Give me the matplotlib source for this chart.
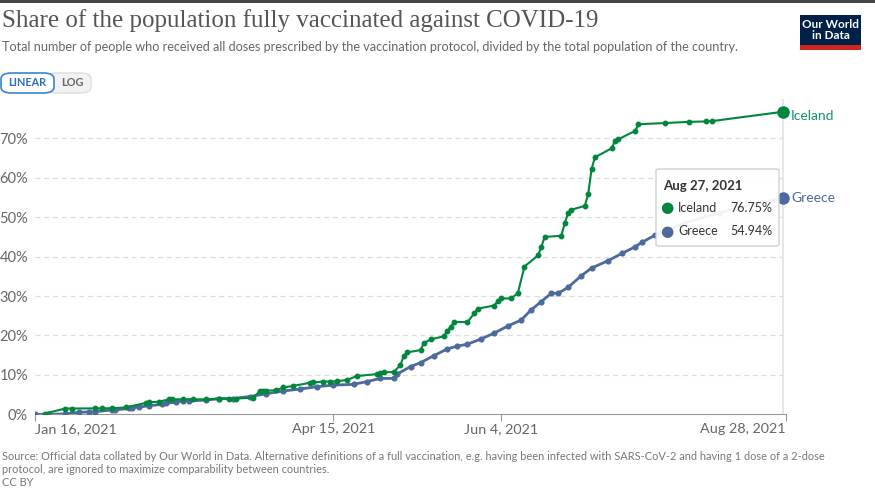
import matplotlib
matplotlib.use('Agg')
import matplotlib.pyplot as plt
from matplotlib.patches import Rectangle, FancyBboxPatch
import numpy as np

# days after Jan 16, 2021 and share fully vaccinated (%)
iceland_day = [3, 9, 11, 18, 20, 23, 27, 33, 34, 37, 40, 41, 44, 47, 51, 55, 58, 60, 65,
               67, 68, 69, 72, 74, 77, 82, 83, 86, 88, 90, 93, 96, 102, 103, 104, 107,
               109, 110, 111, 115, 116, 118, 122, 123, 124, 125, 129, 131, 132, 137, 138,
               139, 142, 144, 146, 150, 151, 152, 157, 158, 159, 160, 164, 165, 166, 167,
               172, 173, 174, 179, 180, 188, 195, 200, 202, 223]
iceland_val = [0.2, 1.47, 1.47, 1.5, 1.5, 1.55, 1.73, 2.87, 3.05, 3.2, 3.8, 3.8, 3.8, 3.8,
               3.8, 4.0, 3.96, 4.0, 4.2, 5.8, 5.9, 6.0, 6.1, 6.8, 7.2, 8.0, 8.1, 8.3, 8.3,
               8.4, 8.7, 9.7, 10.2, 10.6, 10.7, 10.7, 12.5, 14.8, 15.7, 16.3, 18.1, 19.0,
               19.8, 21.2, 22.2, 23.4, 23.4, 25.6, 26.8, 27.6, 28.7, 29.4, 29.4, 30.7, 37.5,
               40.3, 42.4, 45.0, 45.3, 48.5, 51.0, 51.9, 52.9, 55.9, 62.2, 65.2, 67.5, 69.4,
               69.8, 71.9, 73.6, 73.9, 74.2, 74.3, 74.4, 76.75]

greece_day = [0, 4, 9, 13, 16, 18, 23, 24, 28, 29, 31, 34, 38, 39, 42, 44, 46, 51, 55, 59,
              64, 69, 74, 79, 84, 89, 95, 99, 103, 107, 108, 112, 115, 119, 123, 126, 129,
              133, 137, 141, 145, 148, 151, 154, 156, 159, 163, 166, 171, 175, 179, 181,
              185, 194, 204, 215, 223]
greece_val = [0.0, 0.0, 0.1, 0.5, 0.6, 0.66, 1.1, 1.1, 1.5, 1.7, 1.8, 2.2, 2.5, 2.8, 3.05,
              3.4, 3.4, 3.6, 3.96, 4.0, 4.5, 5.2, 5.9, 6.4, 7.0, 7.4, 7.6, 8.3, 9.1, 9.1,
              10.2, 12.1, 13.1, 14.9, 16.6, 17.3, 17.8, 19.1, 20.6, 22.4, 23.9, 26.5, 28.6,
              30.7, 30.7, 32.2, 35.2, 37.1, 39.0, 40.8, 42.5, 43.6, 45.5, 48.6, 51.1, 53.4,
              54.94]

y_ticks = [0, 10, 20, 30, 40, 50, 60, 70]
x_ticks = [0, 89, 139, 224]
x_labels = ["Jan 16, 2021", "Apr 15, 2021", "Jun 4, 2021", "Aug 28, 2021"]

ICE = "#00873c"
GRE = "#4c6a9c"
GRAY = "#666666"

plt.rcParams['font.family'] = ['Lato', 'DejaVu Sans']

fig = plt.figure(figsize=(8.75, 4.9), dpi=100)
ax = fig.add_axes([35 / 875, 1 - 414.3 / 490, 751 / 875, 315.3 / 490])
ax.set_xlim(0, 224)
ax.set_ylim(0, 80)

for t in y_ticks[1:]:
    ax.axhline(t, color="#dddddd", lw=0.9, ls=(0, (4, 3)), zorder=0)
ax.axvline(223, color="#e3e3e3", lw=1.2, zorder=0)

ax.plot(greece_day, greece_val, color=GRE, lw=2.0, marker='o', ms=3.4, zorder=3)
ax.plot(iceland_day, iceland_val, color=ICE, lw=1.5, marker='o', ms=3.2, zorder=4)
ax.plot(greece_day[-1], greece_val[-1], 'o', color=GRE, ms=8, zorder=5, clip_on=False)
ax.plot(iceland_day[-1], iceland_val[-1], 'o', color=ICE, ms=8, zorder=5, clip_on=False)

ax.text(225.5, iceland_val[-1] - 1, "Iceland", color="#14926a", fontsize=10, va='center')
ax.text(225.5, greece_val[-1], "Greece", color=GRE, fontsize=10, va='center')

for s in ['top', 'right', 'left']:
    ax.spines[s].set_visible(False)
ax.spines['bottom'].set_color("#999999")
ax.set_yticks(y_ticks)
ax.set_yticklabels(["%d%%" % t for t in y_ticks])
ax.tick_params(axis='y', length=0, pad=5, labelsize=10.5, labelcolor=GRAY)
ax.set_xticks(x_ticks)
ax.set_xticklabels(x_labels)
ax.tick_params(axis='x', length=5, color="#999999", labelsize=10.4, labelcolor=GRAY, pad=1.5)
xl = ax.get_xticklabels()
xl[0].set_ha('left')
xl[-1].set_ha('right')

# tooltip
ax_px = lambda x, y: (x / 875, 1 - y / 490)
tip = FancyBboxPatch(ax_px(656, 246), 123 / 875, 77 / 490, boxstyle="round,pad=0,rounding_size=0.003",
                     transform=fig.transFigure, facecolor="white", edgecolor="#cccccc",
                     lw=1, alpha=0.92, zorder=10)
fig.add_artist(tip)
fig.text(*ax_px(663, 186), "Aug 27, 2021", fontsize=9.5, fontweight='bold', color="#333333",
         va='center', zorder=11)
for yy, name, val, c in [(208, "Iceland", "76.75%", ICE), (231, "Greece", "54.94%", GRE)]:
    fig.text(*ax_px(667, yy), "\u25cf", color=c, fontsize=11, ha='center', va='center',
             family='DejaVu Sans', zorder=11)
    fig.text(*ax_px(678, yy), name, fontsize=9, color="#333333", va='center', zorder=11)
    fig.text(*ax_px(772, yy), val, fontsize=9, color="#333333", va='center', ha='right', zorder=11)

# header
fig.add_artist(Rectangle((0, 1 - 3 / 490), 1, 3 / 490, transform=fig.transFigure,
                         color="#444444", lw=0))
fig.text(2 / 875, 1 - 21 / 490, "Share of the population fully vaccinated against COVID-19",
         family=['Liberation Serif', 'DejaVu Serif'], fontsize=18, color="#555555", va='center')
fig.text(2 / 875, 1 - 47 / 490,
         "Total number of people who received all doses prescribed by the vaccination protocol, "
         "divided by the total population of the country.", fontsize=9.05, color=GRAY, va='center')

# logo
fig.add_artist(Rectangle(ax_px(800, 45), 61 / 875, 30 / 490, transform=fig.transFigure,
                         color="#002147", lw=0))
fig.add_artist(Rectangle(ax_px(800, 50), 61 / 875, 5 / 490, transform=fig.transFigure,
                         color="#ce261e", lw=0))
fig.text(*ax_px(830.5, 30), "Our World\nin Data", color="white", fontsize=8.5, ha='center',
         va='center', linespacing=0.95, fontweight='bold')

# linear / log toggle
fig.add_artist(FancyBboxPatch(ax_px(46, 93), 45 / 875, 20 / 490,
                              boxstyle="round,pad=0,rounding_size=0.012", transform=fig.transFigure,
                              facecolor="#f2f2f2", edgecolor="#dddddd", lw=1))
fig.add_artist(FancyBboxPatch(ax_px(1, 93), 53 / 875, 20 / 490,
                              boxstyle="round,pad=0,rounding_size=0.012", transform=fig.transFigure,
                              facecolor="white", edgecolor="#3c84d0", lw=1.2))
fig.text(*ax_px(27, 83), "LINEAR", color="#2a6fc0", fontsize=7.8, fontweight='bold',
         ha='center', va='center')
fig.text(*ax_px(72, 83), "LOG", color=GRAY, fontsize=7.8, fontweight='bold',
         ha='center', va='center')

# footer
fig.text(2 / 875, 1 - 451 / 490,
         "Source: Official data collated by Our World in Data. Alternative definitions of a full "
         "vaccination, e.g. having been infected with SARS-CoV-2 and having 1 dose of a 2-dose\n"
         "protocol, are ignored to maximize comparability between countries.\nCC BY",
         fontsize=7.9, color="#777777", va='top', linespacing=1.2)

fig.savefig("out.png", dpi=100, facecolor="white")
